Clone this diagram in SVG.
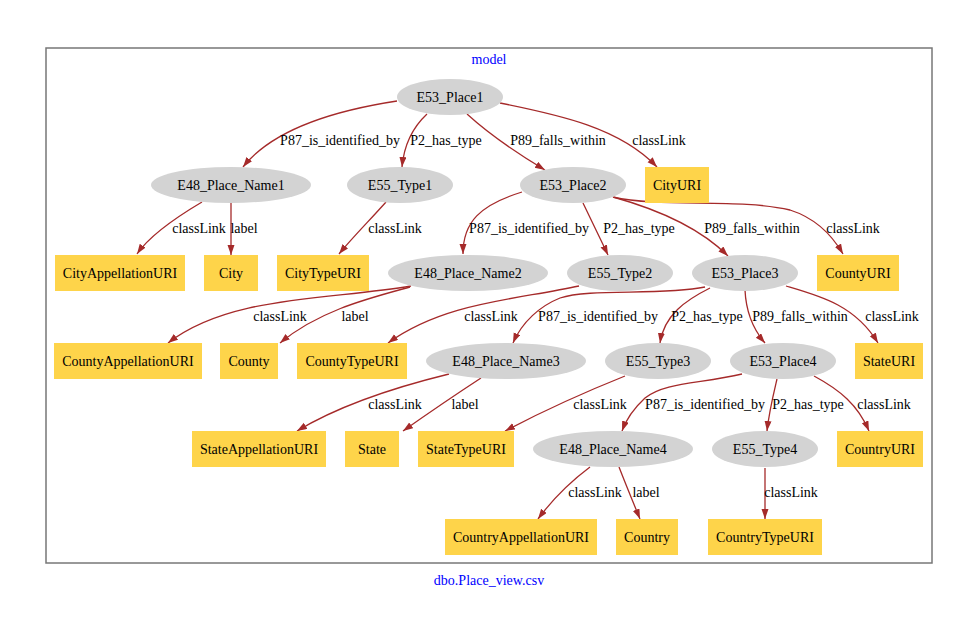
<svg xmlns="http://www.w3.org/2000/svg" width="978" height="617" viewBox="0 0 978 617">
<defs>
<style>
text{font-family:"Liberation Serif","Times New Roman",serif;font-size:14px;fill:#000;text-anchor:middle}
.t{fill:#0000ff}
.e{fill:#d3d3d3;stroke:none}
.r{fill:#fed44a;stroke:none}
.c path{fill:none;stroke:#a52a2a;stroke-width:1.3;marker-end:url(#a)}
</style>
<marker id="a" markerUnits="userSpaceOnUse" markerWidth="11" markerHeight="8" refX="10" refY="3.5" orient="auto">
<path d="M0,0 L10,3.5 L0,7 z" fill="#a52a2a"/>
</marker>
</defs>
<rect width="978" height="617" fill="#fff"/>
<rect x="46" y="48" width="886" height="515" fill="none" stroke="#777" stroke-width="1.5"/>
<text class="t" x="489" y="64">model</text>
<text class="t" x="489" y="585">dbo.Place_view.csv</text>

<g class="c" id="connectors">
<path d="M397,101 C325,112 270,133 243,167"/>
<path d="M427,114 C412,128 404,145 402,167"/>
<path d="M467,114 C490,135 515,152 545,170"/>
<path d="M500,103 C560,115 620,128 657,167"/>
<path d="M202,202 C175,218 150,235 137,254"/>
<path d="M231,202 L231,255"/>
<path d="M386,202 C370,220 352,238 339,254"/>
<path d="M522,192 C480,205 463,222 463,254"/>
<path d="M583,203 C592,222 600,238 608,255"/>
<path d="M613,197 C660,210 700,228 728,256"/>
<path d="M613,197 C660,208 740,198 790,210 C815,218 832,235 843,254"/>
<path d="M411,286 C330,300 230,295 168,343"/>
<path d="M410,287 C370,298 320,310 280,343"/>
<path d="M579,286 C515,300 445,302 388,343"/>
<path d="M705,287 C660,296 590,288 560,298 C540,306 522,322 513,343"/>
<path d="M710,288 C686,300 664,315 660,343"/>
<path d="M745,290 C746,312 752,328 765,343"/>
<path d="M786,286 C820,296 855,305 878,343"/>
<path d="M449,374 C400,386 340,405 297,431"/>
<path d="M481,378 C455,395 430,412 403,431"/>
<path d="M625,376 C590,390 545,410 505,431"/>
<path d="M742,374 C700,384 665,382 645,398 C632,410 626,420 622,431"/>
<path d="M777,379 C773,396 769,412 767,431"/>
<path d="M814,376 C840,390 858,405 869,431"/>
<path d="M590,467 C570,482 552,500 538,519"/>
<path d="M619,467 C626,485 633,502 640,519"/>
<path d="M765,468 L765,519"/>
</g>

<g id="edge-labels">
<text x="340" y="145">P87_is_identified_by</text>
<text x="446" y="145">P2_has_type</text>
<text x="558" y="145">P89_falls_within</text>
<text x="659" y="145">classLink</text>
<text x="199" y="233">classLink</text>
<text x="244" y="233">label</text>
<text x="395" y="233">classLink</text>
<text x="529" y="233">P87_is_identified_by</text>
<text x="639" y="233">P2_has_type</text>
<text x="752" y="233">P89_falls_within</text>
<text x="853" y="233">classLink</text>
<text x="280" y="321">classLink</text>
<text x="355" y="321">label</text>
<text x="491" y="321">classLink</text>
<text x="598" y="321">P87_is_identified_by</text>
<text x="707" y="321">P2_has_type</text>
<text x="800" y="321">P89_falls_within</text>
<text x="892" y="321">classLink</text>
<text x="395" y="409">classLink</text>
<text x="465" y="409">label</text>
<text x="600" y="409">classLink</text>
<text x="705" y="409">P87_is_identified_by</text>
<text x="808" y="409">P2_has_type</text>
<text x="884" y="409">classLink</text>
<text x="595" y="497">classLink</text>
<text x="646" y="497">label</text>
<text x="791" y="497">classLink</text>
</g>

<g id="E53_Place1"><ellipse class="e" cx="450" cy="97" rx="53" ry="18"/><text x="450" y="101.5">E53_Place1</text></g>
<g id="E48_Place_Name1"><ellipse class="e" cx="231" cy="185" rx="80" ry="18"/><text x="231" y="189.5">E48_Place_Name1</text></g>
<g id="E55_Type1"><ellipse class="e" cx="400" cy="185" rx="53" ry="18"/><text x="400" y="189.5">E55_Type1</text></g>
<g id="E53_Place2"><ellipse class="e" cx="573" cy="185" rx="53" ry="18"/><text x="573" y="189.5">E53_Place2</text></g>
<g id="CityURI"><rect class="r" x="645" y="167" width="64" height="36"/><text x="677" y="189.5">CityURI</text></g>

<g id="CityAppellationURI"><rect class="r" x="55" y="255" width="130" height="36"/><text x="120" y="277.5">CityAppellationURI</text></g>
<g id="City"><rect class="r" x="204" y="255" width="54" height="36"/><text x="231" y="277.5">City</text></g>
<g id="CityTypeURI"><rect class="r" x="277" y="255" width="92" height="36"/><text x="323" y="277.5">CityTypeURI</text></g>
<g id="E48_Place_Name2"><ellipse class="e" cx="468" cy="273" rx="80" ry="18"/><text x="468" y="277.5">E48_Place_Name2</text></g>
<g id="E55_Type2"><ellipse class="e" cx="620" cy="273" rx="53" ry="18"/><text x="620" y="277.5">E55_Type2</text></g>
<g id="E53_Place3"><ellipse class="e" cx="745" cy="273" rx="53" ry="18"/><text x="745" y="277.5">E53_Place3</text></g>
<g id="CountyURI"><rect class="r" x="817" y="255" width="82" height="36"/><text x="858" y="277.5">CountyURI</text></g>

<g id="CountyAppellationURI"><rect class="r" x="54" y="343" width="148" height="36"/><text x="128" y="365.5">CountyAppellationURI</text></g>
<g id="County"><rect class="r" x="220" y="343" width="58" height="36"/><text x="249" y="365.5">County</text></g>
<g id="CountyTypeURI"><rect class="r" x="297" y="343" width="110" height="36"/><text x="352" y="365.5">CountyTypeURI</text></g>
<g id="E48_Place_Name3"><ellipse class="e" cx="506" cy="361" rx="80" ry="18"/><text x="506" y="365.5">E48_Place_Name3</text></g>
<g id="E55_Type3"><ellipse class="e" cx="658" cy="361" rx="53" ry="18"/><text x="658" y="365.5">E55_Type3</text></g>
<g id="E53_Place4"><ellipse class="e" cx="783" cy="361" rx="53" ry="18"/><text x="783" y="365.5">E53_Place4</text></g>
<g id="StateURI"><rect class="r" x="855" y="343" width="68" height="36"/><text x="889" y="365.5">StateURI</text></g>

<g id="StateAppellationURI"><rect class="r" x="192" y="431" width="134" height="36"/><text x="259" y="453.5">StateAppellationURI</text></g>
<g id="State"><rect class="r" x="345" y="431" width="54" height="36"/><text x="372" y="453.5">State</text></g>
<g id="StateTypeURI"><rect class="r" x="418" y="431" width="96" height="36"/><text x="466" y="453.5">StateTypeURI</text></g>
<g id="E48_Place_Name4"><ellipse class="e" cx="613" cy="449" rx="80" ry="18"/><text x="613" y="453.5">E48_Place_Name4</text></g>
<g id="E55_Type4"><ellipse class="e" cx="765" cy="449" rx="53" ry="18"/><text x="765" y="453.5">E55_Type4</text></g>
<g id="CountryURI"><rect class="r" x="837" y="431" width="86" height="36"/><text x="880" y="453.5">CountryURI</text></g>

<g id="CountryAppellationURI"><rect class="r" x="445" y="519" width="152" height="36"/><text x="521" y="541.5">CountryAppellationURI</text></g>
<g id="Country"><rect class="r" x="616" y="519" width="62" height="36"/><text x="647" y="541.5">Country</text></g>
<g id="CountryTypeURI"><rect class="r" x="708" y="519" width="114" height="36"/><text x="765" y="541.5">CountryTypeURI</text></g>
</svg>
